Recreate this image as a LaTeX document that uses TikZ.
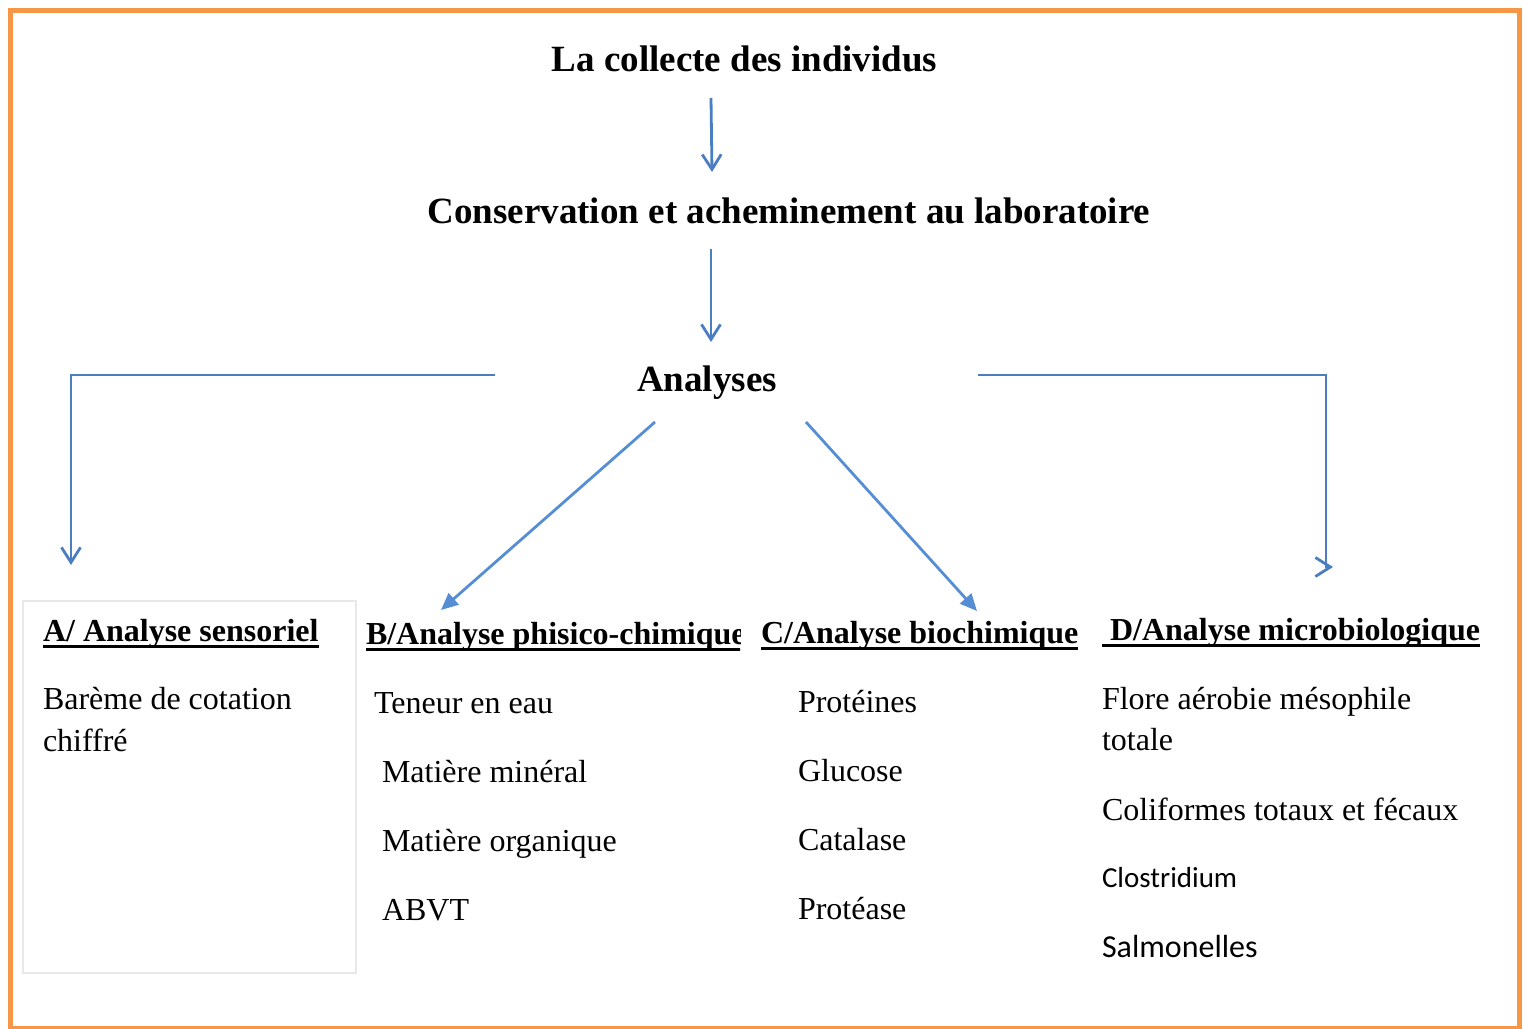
\documentclass[tikz,border=0pt]{standalone}
\usepackage{fontspec}
\setmainfont{Liberation Serif}
\newfontfamily\calfont{Carlito}
\usetikzlibrary{arrows.meta}
\definecolor{framec}{HTML}{F79646}
\definecolor{arr}{RGB}{74,126,193}
\definecolor{arrd}{RGB}{85,142,213}
\definecolor{boxgray}{RGB}{232,232,232}
\tikzset{
  txt/.style={anchor=base west, inner sep=0pt, outer sep=0pt, font=\fontsize{32}{38}\selectfont},
  hdr/.style={anchor=base west, inner sep=0pt, outer sep=0pt, font=\fontsize{32}{38}\selectfont\bfseries},
  ttl/.style={anchor=base, inner sep=0pt, outer sep=0pt, font=\fontsize{37}{44}\selectfont\bfseries},
  ul/.style={line width=3pt, black},
  openarr/.style={draw=arr, line width=2.8pt, -{Straight Barb[length=15pt,width=19pt]}},
  diagarr/.style={draw=arrd, line width=2.8pt, -{Triangle[length=17pt,width=15pt]}},
}
\begin{document}
\begin{tikzpicture}[x=1pt,y=-1pt]
\useasboundingbox (0,0) rectangle (1523,1028);
\draw[framec, line width=5pt] (10,10.5) rectangle (1519.5,1028);

% titles
\node[ttl] (collect) at (744.5,71) {La collecte des individus};
\node[ttl] (conserv) at (789,223) {Conservation et acheminement au laboratoire};
\node[ttl] (analyses) at (707,391) {Analyses};

% connector ends
\coordinate (p1) at (711,98);
\coordinate (p2) at (712,172);
\coordinate (p3) at (711,249);
\coordinate (p4) at (711,342);
\coordinate (l0) at (495,375);
\coordinate (l1) at (71,375);
\coordinate (l2) at (71,565);
\coordinate (r0) at (978,375);
\coordinate (r1) at (1326,375);
\coordinate (r2) at (1326,567);
\coordinate (r3) at (1333,567);
\coordinate (d1s) at (655,422);
\coordinate (d1e) at (441,610);
\coordinate (d2s) at (806,422);
\coordinate (d2e) at (977,611);

\draw[openarr] (p1) -- (p2);
\draw[openarr] (p3) -- (p4);
\draw[openarr] (l0) -- (l1) -- (l2);
\draw[openarr] (r0) -- (r1) -- (r2) -- (r3);
\draw[diagarr] (d1s) -- (d1e);
\draw[diagarr] (d2s) -- (d2e);

% box A
\node[draw=boxgray, line width=1.5pt, minimum width=333pt, minimum height=372pt,
      inner sep=0pt, anchor=north west] (boxA) at (22,600) {};

% headers
\node[hdr] (hA) at (43,641) {A/ Analyse sensoriel};
\draw[ul] ([yshift=-5.5pt]hA.base west) -- ([yshift=-5.5pt]hA.base east);

\begin{scope}
  \clip (340,590) rectangle (740,670);
  \node[hdr] (hB) at (366,644) {B/Analyse phisico-chimique};
  \draw[ul] ([yshift=-5.5pt]hB.base west) -- ([yshift=-5.5pt]hB.base east);
\end{scope}

\node[hdr] (hC) at (761,643) {C/Analyse biochimique};
\draw[ul] ([yshift=-5.5pt]hC.base west) -- ([yshift=-5.5pt]hC.base east);

\node[hdr] (hD) at (1102,640) {\ D/Analyse microbiologique};
\draw[ul] ([yshift=-5pt]hD.base west) -- ([yshift=-5pt]hD.base east);

% body A
\node[txt] (a1) at (43,709) {Barème de cotation};
\node[txt] (a2) at (43,751) {chiffré};

% body B
\node[txt] (b1) at (374,713) {Teneur en eau};
\node[txt] (b2) at (382,782) {Matière minéral};
\node[txt] (b3) at (382,851) {Matière organique};
\node[txt] (b4) at (382,920) {ABVT};

% body C
\node[txt] (c1) at (798,712) {Protéines};
\node[txt] (c2) at (798,781) {Glucose};
\node[txt] (c3) at (798,850) {Catalase};
\node[txt] (c4) at (798,919) {Protéase};

% body D
\node[txt] (e1) at (1102,709) {Flore aérobie mésophile};
\node[txt] (e2) at (1102,750) {totale};
\node[txt] (e3) at (1102,820) {Coliformes totaux et fécaux};
\node[txt, font=\calfont\fontsize{29}{34}\selectfont] (e4) at (1102,887) {Clostridium};
\node[txt, font=\calfont\fontsize{32}{38}\selectfont] (e5) at (1102,957) {Salmonelles};
\end{tikzpicture}
\end{document}
